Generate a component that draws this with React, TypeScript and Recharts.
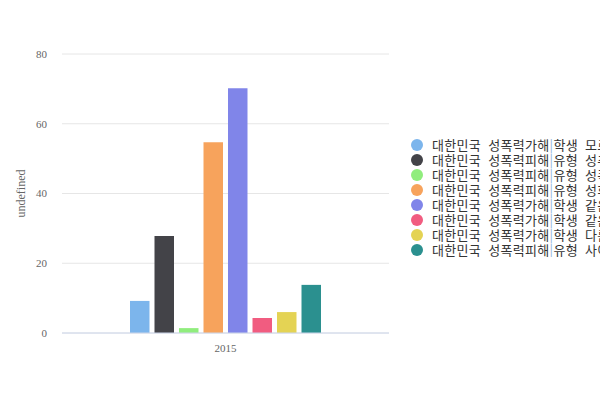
import { Bar, BarChart, CartesianGrid, Legend, XAxis, YAxis } from "recharts"

const years = ["2015"]
const seriesNames = [
  "대한민국 성폭력가해|학생 모르는 사람",
  "대한민국 성폭력피해|유형 성추행",
  "대한민국 성폭력피해|유형 성폭행",
  "대한민국 성폭력피해|유형 성희롱",
  "대한민국 성폭력가해|학생 같은 학교 학생",
  "대한민국 성폭력가해|학생 같은 반 학생",
  "대한민국 성폭력가해|학생 다른 학교 학생",
  "대한민국 성폭력피해|유형 사이버 성폭력",
]
const seriesColors = ["#7cb5ec", "#434348", "#90ed7d", "#f7a35c", "#8085e9", "#f15c80", "#e4d354", "#2b908f"]
// one value per series for the single year
const values2015 = [9.2, 27.8, 1.4, 54.7, 70.2, 4.3, 6.0, 13.8]
const yTicks = [0, 20, 40, 60, 80]

const data = years.map((year) => {
  const row: Record<string, string | number> = { year }
  seriesNames.forEach((_, i) => { row[`s${i}`] = values2015[i] })
  return row
})

function LegendList() {
  return (
    <div style={{ fontFamily: "'Noto Sans CJK KR', sans-serif", fontSize: 13, color: "#333", whiteSpace: "nowrap", wordSpacing: 4, letterSpacing: 0.3 }}>
      {seriesNames.map((name, i) => {
        const [head, tail] = name.split("|")
        return (
          <div key={name} style={{ height: 15, lineHeight: "15px", display: "flex", alignItems: "center" }}>
            <span style={{ width: 12, height: 12, borderRadius: 6, background: seriesColors[i], marginRight: 9, flex: "none" }} />
            <span>{head}<span style={{ color: "#8fb3dc" }}>|</span>{tail}</span>
          </div>
        )
      })}
    </div>
  )
}

export default function App() {
  return (
    <div style={{ position: "absolute", left: 0, top: 0, width: 600, height: 400, overflow: "hidden", background: "#fff" }}>
      <BarChart width={600} height={400} data={data} margin={{ top: 54, right: 21, bottom: 37, left: 0 }}
        barSize={19.5} barGap={5}>
        <CartesianGrid stroke="#e6e6e6" vertical={false} />
        <XAxis dataKey="year" height={30} axisLine={{ stroke: "#ccd6eb" }} tickLine={false} tickSize={0} tickMargin={11}
          tick={{ fill: "#666", fontSize: 11, fontFamily: "'Liberation Serif', serif" }} />
        <YAxis width={62} domain={[0, 80]} ticks={yTicks} axisLine={false} tickLine={false} tickSize={0} tickMargin={15}
          tick={{ fill: "#666", fontSize: 11, fontFamily: "'Liberation Serif', serif" }}
          label={{ value: "undefined", angle: -90, position: "insideLeft", offset: 21,
            style: { textAnchor: "middle", fill: "#666", fontSize: 12, fontFamily: "'Liberation Serif', serif" } }} />
        <Legend layout="vertical" align="right" verticalAlign="middle" content={<LegendList />}
          wrapperStyle={{ left: 411, top: 137, width: 190, overflow: "hidden" }} />
        {seriesNames.map((name, i) => (
          <Bar key={name} dataKey={`s${i}`} name={name} fill={seriesColors[i]} isAnimationActive={false} />
        ))}
      </BarChart>
    </div>
  )
}
